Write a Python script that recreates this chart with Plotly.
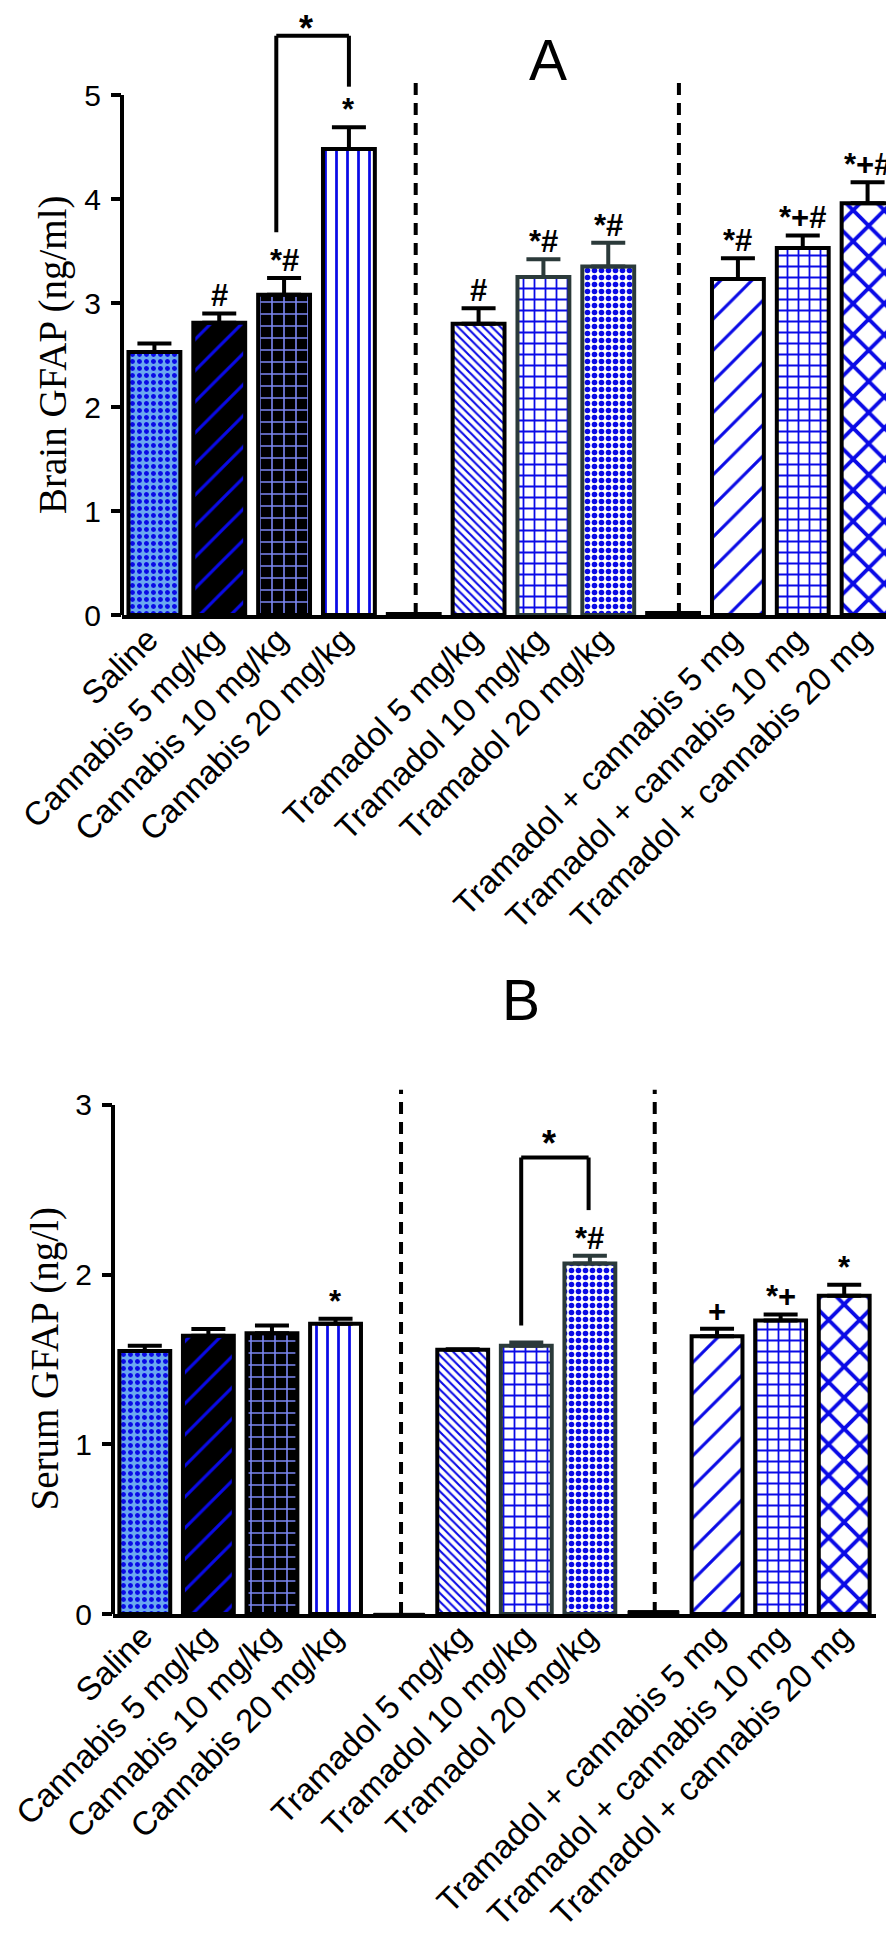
import plotly.graph_objects as go

# ---------------- data ----------------
categories = ["Saline", "Cannabis 5 mg/kg", "Cannabis 10 mg/kg", "Cannabis 20 mg/kg", " ",
              "Tramadol 5 mg/kg", "Tramadol 10 mg/kg", "Tramadol 20 mg/kg", "  ",
              "Tramadol + cannabis 5 mg", "Tramadol + cannabis 10 mg", "Tramadol + cannabis 20 mg"]

brain_mean = [2.53, 2.81, 3.08, 4.48, 0.01, 2.80, 3.25, 3.35, 0.02, 3.23, 3.53, 3.96]
brain_sem = [0.08, 0.09, 0.16, 0.21, 0.0, 0.15, 0.17, 0.23, 0.0, 0.20, 0.12, 0.20]
brain_sig = ["", "#", "*#", "*", "", "#", "*#", "*#", "", "*#", "*+#", "*+#"]

serum_mean = [1.55, 1.64, 1.655, 1.71, 0.004, 1.557, 1.58, 2.066, 0.02, 1.636, 1.73, 1.875]
serum_sem = [0.03, 0.04, 0.045, 0.03, 0.0, 0.003, 0.02, 0.045, 0.0, 0.045, 0.035, 0.065]
serum_sig = ["", "", "", "*", "", "", "", "*#", "", "+", "*+", "*"]

brain_ticks = [0, 1, 2, 3, 4, 5]
serum_ticks = [0, 1, 2, 3]

# bracket (left leg x, right leg x), (left bottom, top, right bottom)
brain_bracket_x = [1.88, 3.0]
brain_bracket_y = [3.68, 5.57, 5.08]
serum_bracket_x = [5.92, 6.98]
serum_bracket_y = [1.70, 2.69, 2.38]

brain_sep_x = [4.03, 8.09]
brain_sep_top = 5.14
serum_sep_x = [4.03, 8.02]
serum_sep_top = 3.09

# ---------------- styles ----------------
BLUE = "#0a0ae6"
LBLUE = "#6aa8f0"
PURP = "#7b86f2"
DARK = "#2b3a3a"
pat_shape = [".", "/", "+", "|", "", "\\", "+", ".", "", "/", "+", "x"]
pat_fg = [BLUE, BLUE, PURP, BLUE, "black", BLUE, BLUE, BLUE, "black", BLUE, BLUE, BLUE]
pat_bg = [LBLUE, "black", "black", "white", "black", "white", "white", "white", "black", "white", "white", "white"]
pat_size = [7, 22, 12, 11, 8, 6, 11, 7, 8, 22, 11, 22]
pat_sol = [0.4, 0.14, 0.25, 0.25, 0.3, 0.35, 0.3, 0.5, 0.3, 0.14, 0.3, 0.32]
line_col = ["black", "black", "black", "black", "black", "black", DARK, DARK, "black", "black", "black", "black"]

W, H = 894, 1941
SANS = "Liberation Sans, Arial, Helvetica, sans-serif"
SERIF = "Liberation Serif, Times New Roman, serif"

fig = go.Figure()


def add_bars(means, sems, xa, ya, gap_lw):
    for i, (c, m, s) in enumerate(zip(categories, means, sems)):
        is_gap = pat_shape[i] == ""
        marker = dict(color=pat_bg[i],
                      line=dict(color=line_col[i], width=(gap_lw if is_gap else 4)))
        if not is_gap:
            marker["pattern"] = dict(shape=pat_shape[i], fgcolor=pat_fg[i], bgcolor=pat_bg[i],
                                     size=pat_size[i], solidity=pat_sol[i], fillmode="replace")
        fig.add_trace(go.Bar(
            x=[c], y=[m], xaxis=xa, yaxis=ya, width=0.8, marker=marker,
            error_y=dict(type="data", array=[s], arrayminus=[0], symmetric=False,
                         color=line_col[i], thickness=4, width=17, visible=not is_gap),
            showlegend=False, hoverinfo="skip"))


add_bars(brain_mean, brain_sem, "x", "y", 4)
add_bars(serum_mean, serum_sem, "x2", "y2", 1)

axis_common = dict(showgrid=False, zeroline=False, automargin=False)
xcommon = dict(type="category", categoryorder="array", categoryarray=categories,
               range=[-0.5, 11.5], showline=True, linewidth=4, linecolor="black", ticks="",
               tickangle=-45, tickfont=dict(family=SANS, size=33, color="black"),
               **axis_common)
ycommon = dict(ticks="outside", ticklen=10, tickwidth=4, tickcolor="black", showline=False,
               ticklabelstandoff=4,
               tickfont=dict(family=SANS, size=30, color="black"), **axis_common)
fig.update_layout(
    width=W, height=H, margin=dict(l=0, r=0, t=0, b=0, autoexpand=False),
    paper_bgcolor="white", plot_bgcolor="white", barmode="overlay",
    xaxis=dict(domain=[114 / W, 892 / W], anchor="y", ticklabelstandoff=-12,
               ticklabelshift=-6, **xcommon),
    yaxis=dict(domain=[1 - 607 / H, 1], anchor="x", range=[0, 607 / 104],
               tickvals=brain_ticks, **ycommon),
    xaxis2=dict(domain=[105 / W, 868 / W], anchor="y2", ticklabelstandoff=-14,
                ticklabelshift=-2, **xcommon),
    yaxis2=dict(domain=[1 - 1606 / H, 1 - 1063 / H], anchor="x2", range=[0, 543 / 169.7],
                tickvals=serum_ticks, **ycommon),
)

shapes = []
annotations = []
panels = [("x", "y", brain_ticks, brain_sep_x, brain_sep_top, brain_bracket_x, brain_bracket_y),
          ("x2", "y2", serum_ticks, serum_sep_x, serum_sep_top, serum_bracket_x, serum_bracket_y)]
for k, (xa, ya, ticks, sep_x, sep_top, bx, by) in enumerate(panels):
    # y axis line (only up to the last tick)
    shapes.append(dict(type="line", xref=xa + " domain", yref=ya, x0=0, x1=0, y0=0, y1=ticks[-1],
                       line=dict(color="black", width=4)))
    # dashed group separators
    for sx in sep_x:
        shapes.append(dict(type="line", xref=xa, yref=ya, x0=sx, x1=sx, y0=0, y1=sep_top,
                           line=dict(color="black", width=4, dash="12px,8px")))
    # comparison bracket
    shapes.append(dict(type="line", xref=xa, yref=ya, x0=bx[0], x1=bx[0], y0=by[0], y1=by[1],
                       line=dict(color="black", width=4)))
    shapes.append(dict(type="line", xref=xa, yref=ya, x0=bx[0], x1=bx[1], y0=by[1], y1=by[1],
                       line=dict(color="black", width=4)))
    shapes.append(dict(type="line", xref=xa, yref=ya, x0=bx[1], x1=bx[1], y0=by[2], y1=by[1],
                       line=dict(color="black", width=4)))
    star = dict(xref=xa, x=(bx[0] + bx[1]) / 2 - 0.1, text="*", showarrow=False,
                font=dict(family=SANS, size=36, color="black", weight="bold"))
    if k == 0:
        star.update(yref="paper", y=1, yanchor="top", yshift=2)
    else:
        star.update(yref=ya, y=by[1], yanchor="bottom", yshift=-8)
    annotations.append(star)

for xa, ya, means, sems, sig in [("x", "y", brain_mean, brain_sem, brain_sig),
                                 ("x2", "y2", serum_mean, serum_sem, serum_sig)]:
    for c, m, s, t in zip(categories, means, sems, sig):
        if t:
            annotations.append(dict(xref=xa, yref=ya, x=c, y=m + s, text=t, showarrow=False,
                                    yanchor="bottom", yshift=-2,
                                    font=dict(family=SANS, size=31, color="black", weight="bold")))

# axis titles and panel letters
annotations.append(dict(xref="paper", yref="y", x=45 / W, y=2.5, text="Brain GFAP (ng/ml)",
                        textangle=-90, showarrow=False, xanchor="center", yanchor="middle",
                        font=dict(family=SERIF, size=39, color="black")))
annotations.append(dict(xref="paper", yref="y2", x=37 / W, y=1.5, text="Serum GFAP (ng/l)",
                        textangle=-90, showarrow=False, xanchor="center", yanchor="middle",
                        font=dict(family=SERIF, size=39, color="black")))
annotations.append(dict(xref="paper", yref="paper", x=540 / W, y=1 - 52 / H, text="A",
                        showarrow=False, xanchor="center", yanchor="middle",
                        font=dict(family=SANS, size=57, color="black")))
annotations.append(dict(xref="paper", yref="paper", x=513 / W, y=1 - 992 / H, text="B",
                        showarrow=False, xanchor="center", yanchor="middle",
                        font=dict(family=SANS, size=57, color="black")))

fig.update_layout(shapes=shapes, annotations=annotations)
fig.write_html("out.html")
